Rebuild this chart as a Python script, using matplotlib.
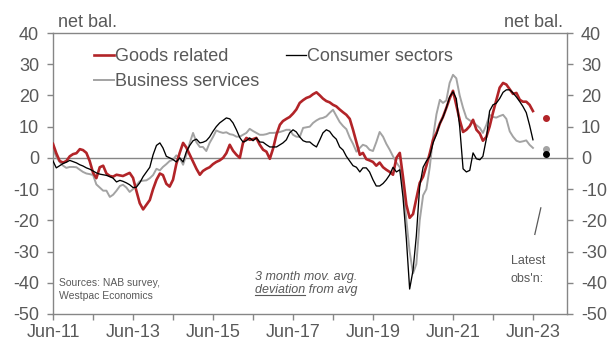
import matplotlib
matplotlib.use("Agg")
import matplotlib.pyplot as plt
from matplotlib.lines import Line2D
import pandas as pd

plt.rcParams['font.family'] = ['Liberation Sans', 'DejaVu Sans']
plt.rcParams['axes.unicode_minus'] = False

# monthly, Jun-11 .. Jun-23 (3 month avg, deviation from avg)
dates = pd.date_range('2011-06-01', periods=145, freq='MS')

goods = [
    4.5, 1.5, -1.0, -1.5, -1.0, 0.5, 1.2, 1.5, 2.8, 2.5,
    1.6, -1.0, -4.8, -6.5, -3.0, -2.5, -5.0, -5.8, -6.0, -5.4,
    -5.6, -5.8, -5.3, -4.8, -6.4, -10.5, -14.5, -16.5, -15.0, -13.5,
    -10.0, -7.0, -5.0, -5.5, -8.3, -9.2, -7.0, -2.0, 1.6, 4.8,
    3.3, 1.0, -1.3, -3.5, -5.4, -4.2, -3.5, -3.0, -2.0, -1.3,
    -0.8, 0.0, 1.5, 4.2, 2.3, 1.0, 0.0, 4.8, 6.4, 5.8,
    6.0, 6.4, 4.2, 2.6, 2.0, -0.3, 3.0, 7.5, 10.6, 11.8,
    12.5, 13.1, 14.2, 15.5, 17.6, 18.5, 19.2, 19.6, 20.4, 21.0,
    20.0, 19.0, 18.2, 17.8, 17.0, 16.5, 15.5, 14.6, 13.8, 12.5,
    9.0, 5.0, 1.0, 1.6, -0.4, -0.8, -1.3, -2.5, -1.5, -3.0,
    -3.8, -4.5, -5.4, 0.0, 1.6, -6.0, -15.0, -19.2, -18.0, -13.0,
    -8.0, -6.0, -2.5, 1.5, 5.8, 8.0, 11.0, 13.1, 16.0, 19.0,
    21.5, 17.0, 12.2, 8.3, 9.0, 10.2, 12.2, 9.0, 7.8, 5.5,
    6.7, 10.0, 14.5, 18.5, 22.5, 24.0, 23.5, 22.0, 20.5, 20.8,
    18.6, 18.0, 18.0, 17.0, 15.0]

consumer = [
    -1.0, -3.2, -2.5, -1.8, -1.4, -0.8, -1.2, -1.6, -2.2, -2.6,
    -3.2, -3.6, -4.2, -4.8, -5.2, -5.4, -5.6, -6.0, -6.5, -7.7,
    -7.2, -7.5, -8.0, -8.6, -9.5, -9.4, -8.0, -6.0, -4.5, -3.0,
    1.0, 4.0, 4.8, 3.2, 0.5, 0.0, -0.5, -1.3, 0.0, -1.3,
    2.0, 4.0, 5.5, 6.0, 4.8, 5.0, 5.5, 6.7, 8.5, 10.0,
    11.2, 12.0, 12.8, 12.5, 11.2, 9.0, 6.5, 5.1, 5.5, 6.4,
    5.5, 6.4, 5.1, 5.0, 4.2, 3.5, 3.5, 3.5, 4.2, 4.8,
    5.8, 8.0, 9.0, 8.3, 6.7, 5.5, 5.1, 5.1, 4.2, 3.5,
    5.8, 8.0, 9.0, 8.5, 7.0, 6.0, 3.5, 2.5, 0.5, -1.0,
    -2.5, -3.0, -4.5, -3.2, -3.2, -4.5, -7.0, -9.0, -9.0, -8.2,
    -7.0, -5.4, -3.0, -4.5, -3.8, -12.5, -26.0, -42.0, -36.0, -25.0,
    -9.0, -3.0, -1.0, 0.5, 4.8, 7.5, 11.0, 13.0, 16.0, 19.5,
    21.2, 19.0, 10.0, -3.5, -4.5, -4.0, 1.6, -0.3, -0.6, 0.5,
    6.0, 15.0, 17.0, 17.5, 19.0, 21.0, 21.8, 21.8, 20.8, 19.5,
    18.0, 16.5, 14.5, 10.5, 5.8]

business = [
    3.0, 0.3, -1.3, -2.5, -3.2, -2.9, -2.9, -3.0, -3.8, -4.5,
    -5.0, -5.2, -5.5, -8.5, -9.5, -10.5, -10.5, -12.5, -11.8, -10.5,
    -9.0, -8.6, -9.5, -10.9, -10.0, -8.8, -7.5, -7.3, -7.2, -6.5,
    -5.5, -3.5, -4.0, -2.9, -2.0, -1.0, -0.6, 0.8, 0.0, -2.2,
    1.0, 4.8, 8.0, 5.0, 3.5, 3.5, 2.2, 4.8, 6.7, 8.8,
    8.3, 8.0, 8.2, 7.6, 7.4, 6.8, 6.8, 7.4, 8.0, 9.3,
    8.6, 8.0, 7.4, 7.4, 7.6, 8.0, 8.0, 8.1, 8.3, 8.6,
    9.0, 9.0, 7.4, 6.8, 6.7, 9.6, 9.8, 10.0, 11.2, 12.0,
    12.6, 12.8, 13.3, 14.4, 15.4, 13.5, 11.5, 10.2, 9.2, 6.5,
    4.5, 2.0, 3.2, 4.2, 3.8, 2.6, 2.2, 5.0, 8.3, 6.8,
    4.5, 2.6, 0.5, -1.5, -3.0, -9.0, -20.0, -30.0, -37.0, -34.0,
    -20.0, -12.0, -10.0, -2.9, 6.7, 14.0, 18.6, 17.6, 18.4, 24.0,
    26.6, 25.5, 20.0, 16.0, 12.8, 12.0, 11.5, 10.5, 9.6, 8.0,
    10.5, 13.8, 13.1, 12.9, 13.4, 13.8, 12.5, 8.5, 6.8, 5.5,
    5.1, 5.3, 5.6, 4.2, 3.2]

latest_date = pd.Timestamp('2023-10-01')
latest = {'goods': 12.8, 'business': 2.8, 'consumer': 1.2}

tick_years = list(range(2011, 2024))
yticks = list(range(-50, 41, 10))

RED = '#B22428'
GREY = '#A3A3A3'
TXT = '#595959'
AXC = '#868686'

fig = plt.figure(figsize=(6.1, 3.43), dpi=100)
ax = fig.add_axes([53 / 610, 1 - 314 / 343, 514 / 610, 281 / 343])

ax.axhline(0, color=AXC, lw=1.0, zorder=1)
l_bus, = ax.plot(dates, business, color=GREY, lw=1.4, zorder=2, label='Business services')
l_goods, = ax.plot(dates, goods, color=RED, lw=1.9, zorder=3, label='Goods related')
l_cons, = ax.plot(dates, consumer, color='black', lw=0.95, zorder=4, label='Consumer sectors')

ax.plot(latest_date, latest['goods'], 'o', color=RED, ms=4, zorder=5)
ax.plot(latest_date, latest['business'], 'o', color=GREY, ms=4, zorder=5)
ax.plot(latest_date, latest['consumer'], 'o', color='black', ms=4, zorder=5)
# little pointer above the "Latest obs'n" note
ax.plot([pd.Timestamp('2023-06-18'), pd.Timestamp('2023-08-12')], [-24.5, -16],
        color=TXT, lw=0.9)

ax.set_ylim(-50, 40)
ax.set_yticks(yticks)
ax.set_xlim(pd.Timestamp('2011-06-01'), pd.Timestamp('2024-04-07'))
ax.set_xticks([pd.Timestamp(f'{y}-06-01') for y in tick_years])
ax.set_xticklabels([f'Jun-{y % 100:02d}' if (y - 2011) % 2 == 0 else '' for y in tick_years])

for s in ax.spines.values():
    s.set_color(AXC)
    s.set_linewidth(1.0)
ax.tick_params(axis='both', direction='out', length=4, width=1, color=AXC,
               labelcolor=TXT, labelsize=13)
ax.tick_params(axis='y', left=True, right=True, labelleft=True, labelright=True, pad=6)
ax.tick_params(axis='x', pad=3.5)

leg = ax.legend(handles=[l_goods, l_bus, l_cons], ncol=2, loc='upper left',
                bbox_to_anchor=(0.08, 0.945), frameon=False, fontsize=13,
                handlelength=1.1, handletextpad=0.05, columnspacing=1.5,
                labelspacing=0.42, borderpad=0, borderaxespad=0)
for t in leg.get_texts():
    t.set_color(TXT)

fig.text(58 / 610, 1 - 27 / 343, 'net bal.', color=TXT, fontsize=13, ha='left', va='baseline')
fig.text(563 / 610, 1 - 27 / 343, 'net bal.', color=TXT, fontsize=13, ha='right', va='baseline')

ax.text(0.012, 0.110, 'Sources: NAB survey,', transform=ax.transAxes, color=TXT,
        fontsize=7.5, va='center', ha='left')
ax.text(0.012, 0.064, 'Westpac Economics', transform=ax.transAxes, color=TXT,
        fontsize=7.5, va='center', ha='left')

ax.text(0.492, 0.132, '3 month mov. avg.', transform=ax.transAxes, color=TXT,
        fontsize=9, style='italic', va='center', ha='center')
dev = ax.text(0.492, 0.075, 'deviation from avg', transform=ax.transAxes,
              color=TXT, fontsize=9, style='italic', va='baseline', ha='center')

ax.text(0.891, 0.189, 'Latest', transform=ax.transAxes, color=TXT,
        fontsize=9, va='center', ha='left')
ax.text(0.891, 0.125, "obs'n:", transform=ax.transAxes, color=TXT,
        fontsize=9, va='center', ha='left')

# underline the word "deviation"
fig.canvas.draw()
r = fig.canvas.get_renderer()
bb = dev.get_window_extent(r)
probe = ax.text(0, 0, 'deviation', fontsize=9, style='italic')
w = probe.get_window_extent(r).width
probe.remove()
base_y = ax.transAxes.transform((0, 0.075))[1] - 2
inv = fig.transFigure.inverted()
(x0, y0), (x1, _) = inv.transform([(bb.x0, base_y), (bb.x0 + w, base_y)])
fig.add_artist(Line2D([x0, x1], [y0, y0], color=TXT, lw=0.8))

fig.savefig('out.png', dpi=100)
